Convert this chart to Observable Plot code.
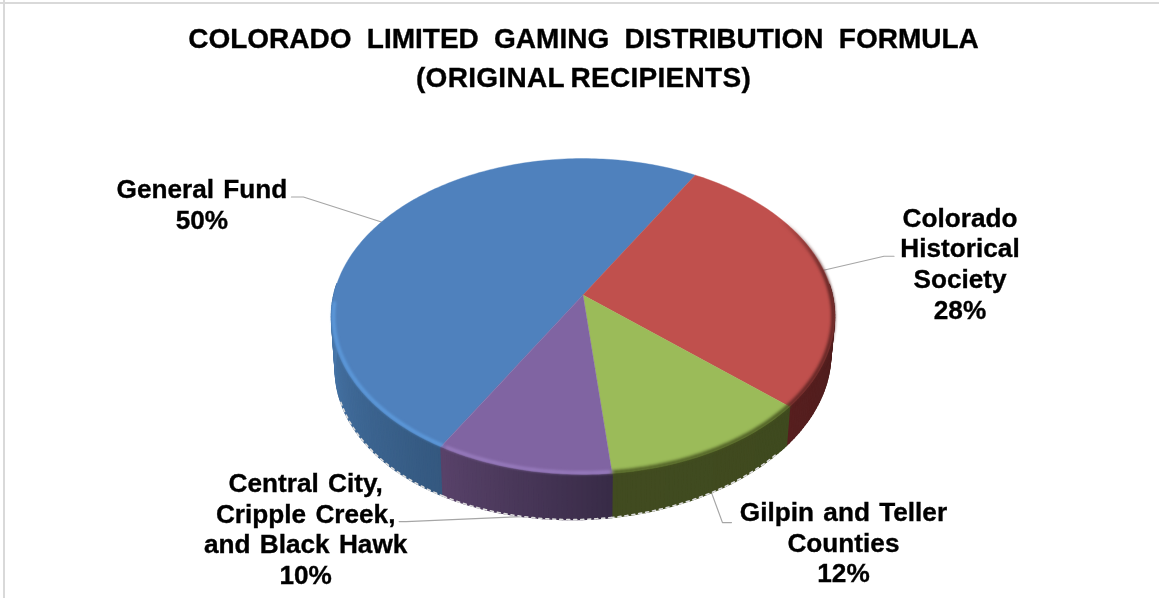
<!DOCTYPE html>
<html><head><meta charset="utf-8">
<script src="https://cdn.jsdelivr.net/npm/d3@7"></script>
<script src="https://cdn.jsdelivr.net/npm/@observablehq/plot@0.6"></script>
<style>
html,body{margin:0;padding:0;background:#fff;overflow:hidden}
svg{display:block}
.soft{filter:blur(0.6px)}
.softer{filter:blur(1.6px)}
.lbl text, .ttl text, .ttl2 text{font-family:"Liberation Sans",Arial,sans-serif;font-weight:bold;fill:#000;stroke:#000;stroke-width:0.35px;filter:blur(0.25px)}
.lbl text{word-spacing:2px}
.ttl text{word-spacing:7.5px}
.ttl2 text{word-spacing:-2px;letter-spacing:0.3px}
</style>
</head><body><div id="chart"></div>
<script>
const categories = ["General Fund","Colorado Historical Society","Gilpin and Teller Counties","Central City, Cripple Creek, and Black Hawk"];
const labelLines = [["General Fund"],["Colorado","Historical","Society"],["Gilpin and Teller","Counties"],["Central City,","Cripple Creek,","and Black Hawk"]];
const shares = [50,28,12,10];
const topColors = ["#4f81bd","#c0504d","#9bbb59","#8064a2"];
const wallLeft  = ["#4a7aaf","#571f1f","#414b20","#584269"];
const wallRight = ["#34587f","#4a1c1c","#3f4a1f","#382b47"];
const rimColors = ["#62a4e8","#8c3a38","#5a6c30","#a084c8"];
const titleLines = ["COLORADO LIMITED GAMING DISTRIBUTION FORMULA","(ORIGINAL RECIPIENTS)"];

// pie geometry (projective tilt of a unit circle)
const W=1159,H=598,cx=582.5,cy=294.5,ax=249.2,ay=155,k=0.136,startDeg=210.2;
const depth=45, inset=0.985, skew=0.03;
const proj=(deg,r=1)=>{const a=deg*Math.PI/180,u=r*Math.sin(a),v=-r*Math.cos(a),d=1-k*v;return [cx+ax*u/d,cy+ay*v/d];};
const low=([x,y])=>[cx+(x-cx)*inset,y+depth-skew*(x-cx)];

let acc=startDeg;
const slices=shares.map((s,i)=>{const a0=acc%360;acc+=s*3.6;return {i,a0,a1:a0+s*3.6,mid:a0+s*1.8};});

const faces=[],walls=[],rims=[],shades=[],notches=[];
slices.forEach(s=>{
  const n=Math.ceil(s.a1-s.a0);
  const arc=d3.range(n+1).map(j=>s.a0+(s.a1-s.a0)*j/n);
  faces.push({x:cx,y:cy,z:s.i,c:topColors[s.i]});
  arc.forEach(a=>{const [x,y]=proj(a);faces.push({x,y,z:s.i,c:topColors[s.i]});});
  // front wall: one quad per degree, visible where the rim faces the viewer
  arc.slice(0,-1).forEach((a,j)=>{
    const b=arc[j+1],norm=((a+b)/2)%360;
    if(norm<86||norm>274) return;
    const lo=Math.max(s.a0,86),hi=Math.min(s.a1,274);
    const P=proj(a),Q=proj(b),R=low(Q),S=low(P),z=`${s.i}-${j}`;
    const shade=d3.interpolateRgb(wallRight[s.i],wallLeft[s.i])((norm-lo)/(hi-lo));
    [P,Q,R,S].forEach(p=>walls.push({x:p[0],y:p[1],z,c:shade}));
    if(norm>=135&&norm<=250){[low(P),low(Q)].forEach(p=>notches.push({x:p[0],y:p[1],z:s.i}));}
  });
  arc.slice(0,-1).forEach((a,j)=>{ const nn=a%360;
    if(nn>=174&&nn<=268){const [x,y]=proj(a,0.992);rims.push({x,y,z:s.i,c:rimColors[s.i]});}
    if(nn>=58&&nn<=174){
      const o=Math.min(1,(nn-58)/30)*0.75,z=`${s.i}-${j}`,c=s.i===1?"#5a2322":"#46531f";
      [proj(a,0.995),proj(arc[j+1],0.995)].forEach(p=>shades.push({x:p[0],y:p[1],z,c,o}));
    }
  });
});

const anchors=slices.map(s=>{const p=proj(s.mid);return (s.i===0||s.i===1)?p:low(p);});
// label layout relative to each slice's rim anchor
const leaderOffsets=[[[-78,-25],[-90,-25]],[[60.5,-14],[70.5,-14]],[[11,30],[20,30]],[[-117,5],[-124,5]]];
const leaders=anchors.flatMap((p,i)=>[[0,0],...leaderOffsets[i]].map(o=>({x:p[0]+o[0],y:p[1]+o[1],z:i})));
const labelCenters=[[-179.5,-32.5],[136.5,-52],[132,20],[-217.5,-33]];
const lineGap=30.7;
const labels=anchors.flatMap((p,i)=>{
  const lines=[...labelLines[i],shares[i]+"%"];
  return lines.map((t,j)=>({x:p[0]+labelCenters[i][0],y:p[1]+labelCenters[i][1]+j*lineGap,t}));
});
const titles=titleLines.map((t,i)=>({x:583,y:38.5+i*39,t}));

const plot=Plot.plot({
  width:W,height:H,margin:0,
  x:{domain:[0,W],range:[0,W],axis:null},
  y:{domain:[0,H],range:[0,H],axis:null},
  marks:[
    Plot.ruleY([2.5],{stroke:"#d9d9d9",strokeWidth:2}),
    Plot.ruleX([3.5],{stroke:"#d9d9d9",strokeWidth:2}),
    Plot.line(leaders,{x:"x",y:"y",z:"z",stroke:"#a6a6a6",strokeWidth:1.2}),
    Plot.line(walls,{x:"x",y:"y",z:"z",fill:{value:"c",scale:null},stroke:{value:"c",scale:null},strokeWidth:1.4,curve:"linear-closed",className:"soft"}),
    Plot.line(notches,{x:"x",y:"y",z:"z",stroke:"#dcdcdc",strokeWidth:1.6,strokeDasharray:"3 4"}),
    Plot.line(faces,{x:"x",y:"y",z:"z",fill:{value:"c",scale:null},stroke:{value:"c",scale:null},strokeWidth:0.4,curve:"linear-closed",className:"soft"}),
    Plot.line(shades,{x:"x",y:"y",z:"z",stroke:{value:"c",scale:null},strokeOpacity:{value:"o",scale:null},strokeWidth:4,className:"softer"}),
    Plot.line(rims,{x:"x",y:"y",z:"z",stroke:{value:"c",scale:null},strokeWidth:2.4,className:"softer"}),
    Plot.text(labels,{x:"x",y:"y",text:"t",fontSize:26.2,textAnchor:"middle",className:"lbl"}),
    Plot.text(titles.slice(0,1),{x:"x",y:"y",text:"t",fontSize:28,textAnchor:"middle",className:"ttl"}),
    Plot.text(titles.slice(1),{x:"x",y:"y",text:"t",fontSize:28,textAnchor:"middle",className:"ttl2"})
  ]
});
document.getElementById("chart").appendChild(plot);
</script></body></html>
